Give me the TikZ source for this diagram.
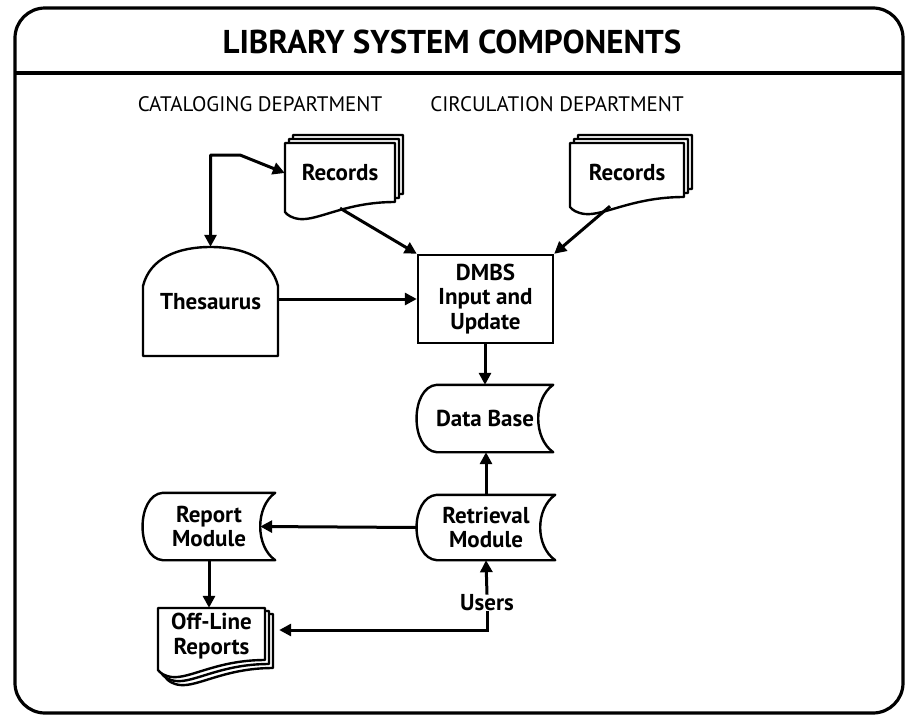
\documentclass[tikz,border=0pt]{standalone}
\usepackage{fontspec}
\setmainfont{PT Sans}
\usetikzlibrary{arrows.meta,calc}

% stored-data outline: convex left side, concave right side
\newcommand{\storedoutline}[1]{%
  \draw[outline] ([xshift=20pt]#1.north west) -- (#1.north east)
    .. controls ([xshift=-20pt,yshift=-14pt]#1.north east) and ([xshift=-20pt,yshift=14pt]#1.south east) .. (#1.south east)
    -- ([xshift=20pt]#1.south west)
    .. controls ([xshift=-7pt,yshift=2pt]#1.south west) and ([xshift=-7pt,yshift=-2pt]#1.north west) .. ([xshift=20pt]#1.north west) -- cycle;}

% document page: left x, top y, right x, bottom y (at the left corner)
\newcommand{\docpage}[5][]{%
  \draw[outline,#1] (#2,#3) -- (#4,#3) -- (#4,{#5-10})
    .. controls ({#4-0.45*(#4-#2)},{#5-10}) and ({#2+0.3*(#4-#2)},{#5+9}) .. ({#2+0.13*(#4-#2)},{#5+7})
    .. controls ({#2+0.06*(#4-#2)},{#5+6}) and ({#2+0.02*(#4-#2)},{#5+3}) .. (#2,#5) -- cycle;}

\begin{document}
\begin{tikzpicture}[x=1pt,y=-1pt,
  outline/.style={line width=2.4pt,fill=white,line join=round},
  arr/.style={line width=3pt,-{Triangle[length=12pt,width=12pt]}},
  biarr/.style={line width=3pt,{Triangle[length=12pt,width=12pt]}-{Triangle[length=12pt,width=12pt]},line join=round},
  lbl/.style={font=\fontsize{23}{24.5}\selectfont\bfseries,align=center,inner sep=0pt},
  dept/.style={font=\fontsize{21}{24}\selectfont},
  ttl/.style={font=\fontsize{33}{36}\selectfont\bfseries}]

\useasboundingbox (0,0) rectangle (905,715);

% frame and title bar
\draw[line width=3.2pt,rounded corners=30pt] (15,8) rectangle (903,713);
\draw[line width=3.2pt] (15,73) -- (903,73);
\node[ttl] (title) at (452,42) {LIBRARY SYSTEM COMPONENTS};

\node[dept] (catdept) at (260,104) {CATALOGING DEPARTMENT};
\node[dept] (circdept) at (557,104) {CIRCULATION DEPARTMENT};

% cataloging records (stacked pages)
\docpage{293}{135}{403}{204}
\docpage{289}{139}{399}{208}
\docpage{285}{143}{395}{212}
\node[lbl,minimum width=110pt,minimum height=58pt] (rec1) at (340,172) {Records};

% circulation records (stacked pages)
\docpage{578}{135}{692}{199}
\docpage{574}{139}{688}{203}
\docpage{570}{143}{684}{207}
\node[lbl,minimum width=114pt,minimum height=58pt] (rec2) at (627,172) {Records};

% thesaurus
\draw[outline] (143,356) -- (143,286) .. controls (150,258) and (178,247) .. (210.5,247)
  .. controls (243,247) and (271,258) .. (278,286) -- (278,356) -- cycle;
\node[lbl,minimum width=135pt,minimum height=109pt] (thes) at (210.5,301.5) {\raisebox{-5pt}{Thesaurus}};

% DBMS input box
\node[lbl,draw,line width=2.4pt,minimum width=135pt,minimum height=88pt] (dmbs) at (485.5,299)
  {DMBS\\Input and\\Update};

% stored data symbols
\node[lbl,minimum width=136pt,minimum height=67pt] (db) at (485,418.5) {};
\storedoutline{db}
\node[lbl] (dbtext) at (db) {Data Base};

\node[lbl,minimum width=138pt,minimum height=65pt] (ret) at (486,527.5) {};
\storedoutline{ret}
\node[lbl] (rettext) at (ret) {Retrieval\\Module};

\node[lbl,minimum width=132pt,minimum height=67pt] (rep) at (209,526.5) {};
\storedoutline{rep}
\node[lbl] (reptext) at (rep) {Report\\Module};

% off-line reports (stacked pages)
\docpage{166}{614}{273}{678}
\docpage{162}{611}{269}{674}
\docpage{158}{608}{265}{670}
\node[lbl,minimum width=107pt,minimum height=56pt] (off) at (211.5,636) {Off-Line\\Reports};

\node[lbl] (users) at (487,603) {Users};

% connectors
\coordinate (bend) at (240,155);
\draw[biarr] ([yshift=-1pt]rec1.west) -- (bend) -| (thes.north);
\draw[arr] ([yshift=-7pt]rec1.south) -- (dmbs.north west);
\draw[arr] ([xshift=-17pt,yshift=-5pt]rec2.south) -- (dmbs.north east);
\draw[arr] (thes.east |- dmbs.west) -- (dmbs.west);
\draw[arr] (dmbs.south -| db.north) -- (db.north);
\draw[arr] (ret.north) -- (db.south -| ret.north);
\draw[arr] (ret.west) -- ([xshift=-15pt]rep.east);
\draw[arr] (rep.south) -- (rep.south |- off.north);
\draw[arr] (users.north) -- (ret.south);
\draw[arr] (users.south) |- ([xshift=14pt,yshift=6pt]off.east);
\end{tikzpicture}
\end{document}
